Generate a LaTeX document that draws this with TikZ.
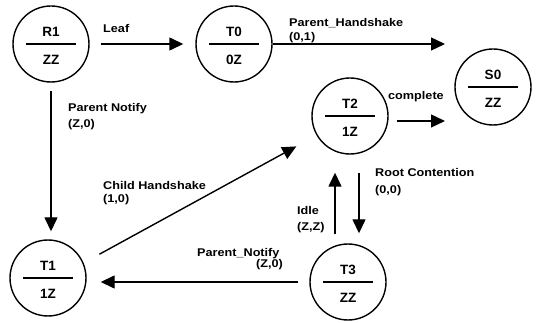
\documentclass[tikz,border=0pt]{standalone}
\usepackage{fontspec}
\setmainfont{Liberation Sans}
\newfontfamily\edgefont[FakeStretch=1.13]{Liberation Sans}
\usetikzlibrary{arrows.meta}

% one state: circle, divider, name above, code below
\newcommand\mkstate[4]{%
  \node[state] (#1) at (#2) {};
  \draw[divider] ([xshift=-25pt]#1.center) -- ([xshift=25pt]#1.center);
  \node[slbl, anchor=base] (#1-top) at ([yshift=7pt]#1.center) {#3};
  \node[slbl, anchor=base] (#1-bot) at ([yshift=-21pt]#1.center) {#4};
}

\begin{document}
\begin{tikzpicture}[x=1pt,y=-1pt,
  state/.style={circle, draw, line width=1.4pt, minimum size=76pt, inner sep=0pt},
  divider/.style={line width=1.5pt},
  slbl/.style={font=\bfseries\fontsize{13.5}{15}\selectfont, inner sep=0pt},
  elbl/.style={font=\edgefont\bfseries\fontsize{11.2}{13}\selectfont, inner sep=0pt, anchor=base west},
  arr/.style={line width=1.4pt, -{Triangle[length=14pt,width=13pt]}},
]
\useasboundingbox (0,0) rectangle (536,323);

\mkstate{R1}{51,44}{R1}{ZZ}
\mkstate{T0}{234,44}{T0}{0Z}
\mkstate{S0}{493,87}{S0}{ZZ}
\mkstate{T2}{350,116}{T2}{1Z}
\mkstate{T1}{48,278}{T1}{1Z}
\mkstate{T3}{348,282}{T3}{ZZ}

% free ends of the two open transitions
\coordinate (phEnd) at (445,44);
\coordinate (cEnd) at (445,121);

% transitions
\draw[arr, shorten <=11pt, shorten >=12pt] (R1.east) -- (T0.west);
\draw[arr] (T0.east) -- (phEnd);
\draw[arr, shorten <=8pt] ([yshift=-5pt]T2.east) -- (cEnd);
\draw[arr, shorten <=8pt, shorten >=8pt] (R1.south) -- (R1.south |- T1.north);
\draw[arr, shorten <=18pt, shorten >=23pt] (T1.23) -- (T2.210);
\draw[arr, shorten <=18pt, shorten >=10pt] ([xshift=9pt]T2.south) -- ([xshift=9pt]T2.south |- T3.north);
\draw[arr, shorten <=9pt, shorten >=18pt] ([xshift=-15pt]T2.south |- T3.north) -- ([xshift=-15pt]T2.south);
\draw[arr, shorten <=11pt, shorten >=14pt] (T3.west) -- (T3.west -| T1.east);

% transition labels
\node[elbl] (lLeaf) at (103,33) {Leaf};
\node[elbl] (lPH1) at (289,27) {Parent\_Handshake};
\node[elbl] (lPH2) at (289,41) {(0,1)};
\node[elbl] (lComp) at (388,100) {complete};
\node[elbl] (lPN1) at (68,112) {Parent Notify};
\node[elbl] (lPN2) at (68,128) {(Z,0)};
\node[elbl] (lCH1) at (103,190) {Child Handshake};
\node[elbl] (lCH2) at (103,203) {(1,0)};
\node[elbl] (lRC1) at (375,177) {Root Contention};
\node[elbl] (lRC2) at (375,194) {(0,0)};
\node[elbl] (lId1) at (297,215) {Idle};
\node[elbl] (lId2) at (297,231) {(Z,Z)};
\node[elbl] (lPNb1) at (197,257) {Parent\_Notify};
\node[elbl, anchor=base east] (lPNb2) at (283,268) {(Z,0)};
\end{tikzpicture}
\end{document}
